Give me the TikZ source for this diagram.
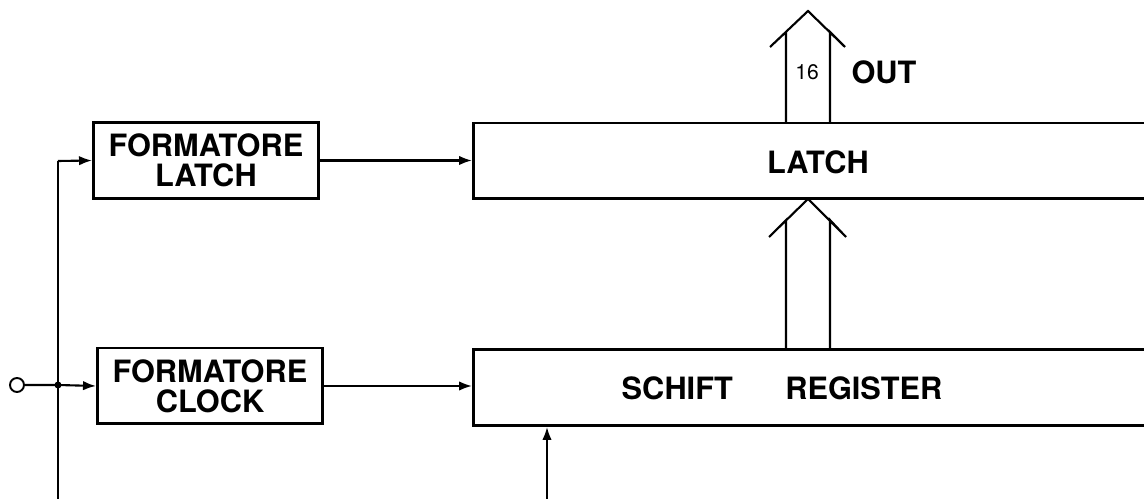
\documentclass[tikz,border=0pt]{standalone}
\usepackage{fontspec}
\setmainfont{TeX Gyre Heros}
\usetikzlibrary{arrows.meta,positioning,calc}

\begin{document}
\begin{tikzpicture}[x=0.02cm, y=-0.02cm, >={Latex[length=0.26cm, width=0.19cm]}]
    \tikzset{
        block/.style={draw, line width=1.7pt, rectangle, minimum height=1.52cm, minimum width=4.5cm, align=center, font=\bfseries\fontsize{17.5}{17}\selectfont, inner sep=0pt},
        bigblock/.style={draw, line width=1.7pt, rectangle, minimum height=1.52cm, minimum width=14cm, anchor=west, inner sep=0pt},
        label/.style={font=\bfseries\fontsize{17.5}{17}\selectfont, inner sep=0pt},
        line/.style={draw, ->, line width=1.2pt},
        bus/.style={draw, line width=1.2pt, line join=miter}
    }
    \path[use as bounding box, clip] (0,0) rectangle (1144,499);

    \node [block] (flatch) at (206,160.5) {FORMATORE\\LATCH};
    \node [block] (fclock) at (210,386) {FORMATORE\\CLOCK};
    \node [bigblock] (latch) at (472,161) {};
    \node [bigblock] (sreg) at (472,387.5) {};
    \node [label] (latchtxt) at (818,162) {LATCH};
    \node [label] (sregtxt) at (782,388) {SCHIFT\hspace{1.05cm}REGISTER};
    \node [label] (outtxt) at (884,72) {OUT};
    \node [font=\fontsize{12}{12}\selectfont, inner sep=0pt] (nbits) at (807,72) {16};

    % input and feed line
    \node [draw, circle, line width=1.1pt, minimum size=0.28cm, inner sep=0pt] (inp) at (17,385) {};
    \coordinate (split) at (58,385);
    \coordinate (feedtop) at (58,161);
    \coordinate (feedbot) at (58,499);
    \coordinate (srin) at (547,499);
    \fill (split) circle (0.07cm);

    \path [line] (inp.east) -- (split) -- (fclock.west);
    \draw [line width=1.2pt] (feedbot) -- (feedtop);
    \path [line] (feedtop) -- (flatch.west);
    \path [line] (flatch.east) -- (flatch.east -| latch.west);
    \path [line] (fclock.east) -- (fclock.east -| sreg.west);
    \path [line] (srin) -- (srin |- sreg.south);

    % parallel buses
    \path [bus] (786,123) -- (786,32) -- (770,47) -- (808,11) -- (845,47) -- (830,32) -- (830,123);
    \path [bus] (786,350) -- (786,220) -- (769,237) -- (808,199) -- (846,237) -- (830,220) -- (830,350);
\end{tikzpicture}
\end{document}
